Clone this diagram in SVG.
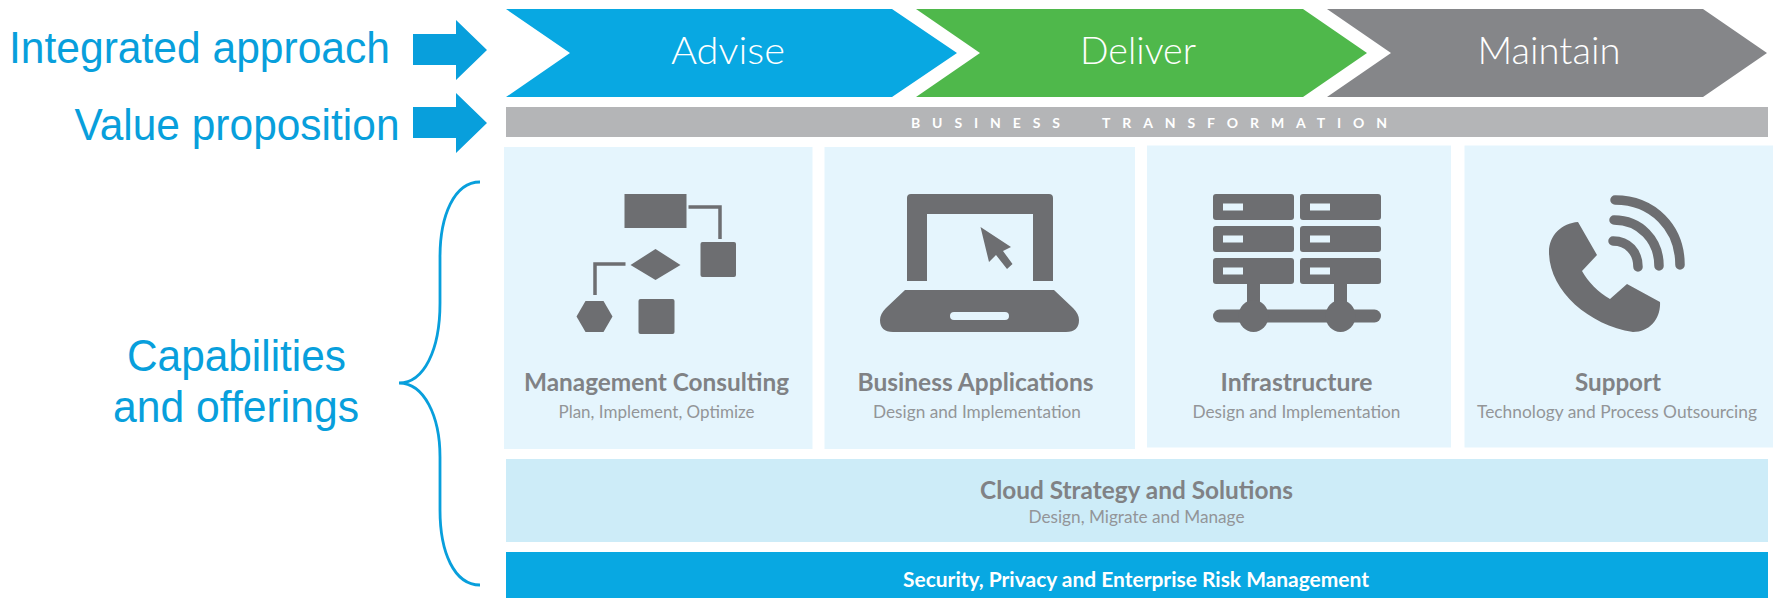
<svg xmlns="http://www.w3.org/2000/svg" width="1773" height="598" viewBox="0 0 1773 598">
<style>
.lbl{font-family:"Liberation Sans",Arial,sans-serif;fill:#089fdc;font-size:44px}
.hd{font-family:"Lato","Noto Sans",sans-serif;fill:#fff;font-size:38px;font-weight:300}
.ttl{font-family:"Lato","Noto Sans",sans-serif;fill:#808285;font-size:24.500px;font-weight:700}
.sub{font-family:"Lato","Noto Sans",sans-serif;fill:#939598;font-size:18px;font-weight:400}
.card{fill:#e5f5fd}
.ic{fill:#6d6e71}
.icl{fill:none;stroke:#6d6e71}
.arc{fill:none;stroke:#6d6e71;stroke-width:9.500;stroke-linecap:round}
.ar{fill:#089fdc}
</style>
<rect width="1773" height="598" fill="#fff"/>
<g id="label-integrated"><text class="lbl" x="9" y="63" textLength="381" lengthAdjust="spacingAndGlyphs">Integrated approach</text></g>
<g id="label-value"><text class="lbl" x="74.500" y="140" textLength="325" lengthAdjust="spacingAndGlyphs">Value proposition</text></g>
<g id="label-capabilities">
<text class="lbl" x="236.500" y="371" text-anchor="middle" textLength="219" lengthAdjust="spacingAndGlyphs">Capabilities</text>
<text class="lbl" x="236" y="422" text-anchor="middle" textLength="246" lengthAdjust="spacingAndGlyphs">and offerings</text>
</g>
<g id="connectors">
<polygon class="ar" points="413,34 456,34 456,20 487,50 456,80 456,65 413,65"/>
<polygon class="ar" points="413,107 456,107 456,93 487,123 456,153 456,138 413,138"/>
<path fill="none" stroke="#089fdc" stroke-width="2.800" d="M480 182C454 182 440 216 440 257V303C440 350 424 383 399 383C424 383 440 416 440 457V510C440 552 454 585 480 585"/>
</g>
<g id="advise"><polygon fill="#08a8e2" points="506,9 892,9 957,53 892,97 506,97 570,53"/><text class="hd" x="728" y="64" text-anchor="middle" textLength="114" lengthAdjust="spacingAndGlyphs">Advise</text></g>
<g id="deliver"><polygon fill="#4fb84b" points="916,9 1303,9 1367,53 1303,97 916,97 980,53"/><text class="hd" x="1138" y="64" text-anchor="middle" textLength="116" lengthAdjust="spacingAndGlyphs">Deliver</text></g>
<g id="maintain"><polygon fill="#858689" points="1327,9 1703,9 1767,53 1703,97 1327,97 1391,53"/><text class="hd" x="1549" y="64" text-anchor="middle" textLength="143" lengthAdjust="spacingAndGlyphs">Maintain</text></g>
<g id="business-transformation"><rect x="506" y="107" width="1262" height="30" fill="#b4b5b7"/><text x="911" y="128" textLength="476" font-family="Lato,'Noto Sans',sans-serif" font-size="14" font-weight="700" fill="#fff" xml:space="preserve">BUSINESS  TRANSFORMATION</text></g>
<g id="management-consulting">
<rect class="card" x="504" y="147" width="308.500" height="302"/>
<rect class="ic" x="624.500" y="194" width="62" height="34"/>
<path class="icl" stroke-width="3.500" d="M688.500 207H720V239M625.500 264H595V295"/>
<rect class="ic" x="700.500" y="242" width="35.500" height="35" rx="2"/>
<polygon class="ic" points="630.500,265 655.500,249 680.500,265 655.500,280"/>
<polygon class="ic" points="576.500,316.500 585.500,301 603.500,301 612.500,316.500 603.500,332 585.500,332"/>
<rect class="ic" x="638.500" y="299" width="36" height="35" rx="2"/>
<text class="ttl" x="656.500" y="391" text-anchor="middle" textLength="265" lengthAdjust="spacingAndGlyphs">Management Consulting</text>
<text class="sub" x="656.500" y="418" text-anchor="middle" textLength="196" lengthAdjust="spacingAndGlyphs">Plan, Implement, Optimize</text>
</g>
<g id="business-applications">
<rect class="card" x="824.500" y="147" width="310.500" height="302"/>
<path class="ic" d="M907 281V198Q907 194 911 194H1049Q1053 194 1053 198V281H1033V214H927V281Z"/>
<path class="ic" d="M980.500 227L1011 247L1003 251L1012.500 264L1007 269L996 255L989 262Z"/>
<path class="ic" fill-rule="evenodd" d="M905 290H1054L1073 308Q1079 314 1079 320Q1079 332 1066 332H893Q880 332 880 320Q880 314 886 308ZM954 312Q950 312 950 316Q950 320 954 320H1005Q1009 320 1009 316Q1009 312 1005 312Z"/>
<text class="ttl" x="975.500" y="391" text-anchor="middle" textLength="236" lengthAdjust="spacingAndGlyphs">Business Applications</text>
<text class="sub" x="977" y="418" text-anchor="middle" textLength="208" lengthAdjust="spacingAndGlyphs">Design and Implementation</text>
</g>
<g id="infrastructure">
<rect class="card" x="1147" y="145.500" width="304" height="302"/>
<g class="ic">
<rect x="1213" y="194" width="81" height="26" rx="3"/><rect x="1300" y="194" width="81" height="26" rx="3"/>
<rect x="1213" y="226" width="81" height="26" rx="3"/><rect x="1300" y="226" width="81" height="26" rx="3"/>
<rect x="1213" y="258" width="81" height="26" rx="3"/><rect x="1300" y="258" width="81" height="26" rx="3"/>
<rect x="1247" y="284" width="13" height="24"/><rect x="1334" y="284" width="13" height="24"/>
<rect x="1213" y="309.500" width="168" height="13" rx="6.500"/>
<ellipse cx="1253.500" cy="316" rx="15" ry="16"/><ellipse cx="1340.500" cy="316" rx="15" ry="16"/>
</g>
<g fill="#e5f5fd">
<rect x="1223" y="203.500" width="20" height="7"/><rect x="1310" y="203.500" width="20" height="7"/>
<rect x="1223" y="235.500" width="20" height="7"/><rect x="1310" y="235.500" width="20" height="7"/>
<rect x="1223" y="267.500" width="20" height="7"/><rect x="1310" y="267.500" width="20" height="7"/>
</g>
<text class="ttl" x="1296.500" y="391" text-anchor="middle" textLength="152" lengthAdjust="spacingAndGlyphs">Infrastructure</text>
<text class="sub" x="1296.500" y="418" text-anchor="middle" textLength="208" lengthAdjust="spacingAndGlyphs">Design and Implementation</text>
</g>
<g id="support">
<rect class="card" x="1464.500" y="145.500" width="308.500" height="302"/>
<path class="ic" d="M1578 222L1597 255L1582 271C1588 282 1598 292 1610 299L1627 284L1660 302C1661 318 1650 332 1633 332C1588 325 1549 290 1549 252C1549 235 1562 223 1578 222Z"/>
<path class="arc" d="M1615 200C1653 200 1680 228 1680 265"/>
<path class="arc" d="M1614 220C1640 220 1659 240 1659 266"/>
<path class="arc" d="M1613 241C1628 241 1638 252 1638 267"/>
<text class="ttl" x="1618" y="391" text-anchor="middle" textLength="86" lengthAdjust="spacingAndGlyphs">Support</text>
<text class="sub" x="1617" y="418" text-anchor="middle" textLength="280" lengthAdjust="spacingAndGlyphs">Technology and Process Outsourcing</text>
</g>
<g id="cloud">
<rect x="506" y="459" width="1262" height="83" fill="#cdecf8"/>
<text class="ttl" x="1136.500" y="499" text-anchor="middle" textLength="313" lengthAdjust="spacingAndGlyphs">Cloud Strategy and Solutions</text>
<text class="sub" x="1136.500" y="523" text-anchor="middle" textLength="216" lengthAdjust="spacingAndGlyphs">Design, Migrate and Manage</text>
</g>
<g id="security">
<rect x="506" y="552" width="1262" height="46" fill="#08a8e2"/>
<text x="1136" y="587" text-anchor="middle" textLength="466" lengthAdjust="spacingAndGlyphs" font-family="Lato,'Noto Sans',sans-serif" font-size="21" font-weight="700" fill="#fff">Security, Privacy and Enterprise Risk Management</text>
</g>
</svg>
